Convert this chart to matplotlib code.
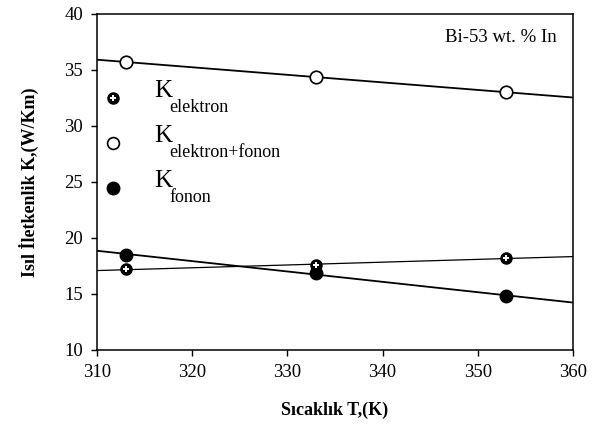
import numpy as np
import matplotlib.pyplot as plt

plt.rcParams['font.family'] = ['Liberation Serif', 'DejaVu Serif']

# sıcaklık (K)
T = [313, 333, 353]
k_elektron = [17.2, 17.6, 18.2]
k_toplam = [35.7, 34.4, 33.0]
k_fonon = [18.5, 16.9, 14.8]

xticks = [310, 320, 330, 340, 350, 360]
yticks = [10, 15, 20, 25, 30, 35, 40]

fig = plt.figure(figsize=(6.13, 4.38), dpi=100)
ax = fig.add_axes([97 / 613, 1 - 350 / 438, 476 / 613, 336 / 438])

xs = np.array([310, 360])
for y, lw in [(k_toplam, 1.3), (k_fonon, 1.3), (k_elektron, 0.9)]:
    p = np.polyfit(T, y, 1)
    ax.plot(xs, np.polyval(p, xs), color='black', lw=lw, zorder=2)


def elektron_marker(x, y, **kw):
    ax.plot(x, y, 'o', color='black', ms=8, zorder=3, **kw)
    ax.plot(x, y, 'P', color='white', ms=4.5, mew=0, zorder=4, **kw)


elektron_marker(T, k_elektron)
ax.plot(T, k_toplam, 'o', mfc='white', mec='black', ms=9, mew=1.2, zorder=3)
ax.plot(T, k_fonon, 'o', color='black', ms=9, zorder=3)

# el ile yerleştirilmiş açıklama
tr = ax.transAxes
leg = [(0.75, r'elektron'), (0.616, r'elektron+fonon'), (0.482, r'fonon')]
elektron_marker([0.034], [leg[0][0]], transform=tr)
ax.plot([0.034], [leg[1][0]], 'o', mfc='white', mec='black', ms=8.5, mew=1.2, transform=tr)
ax.plot([0.034], [leg[2][0]], 'o', color='black', ms=9, transform=tr)
for yy, sub in leg:
    ax.text(0.12, yy + 0.02, 'K', fontsize=18, transform=tr, va='center', ha='left')
    ax.text(0.152, yy - 0.027, sub, fontsize=13, transform=tr, va='center', ha='left')

ax.text(0.965, 0.93, 'Bi-53 wt. % In', fontsize=13.5, transform=tr, ha='right', va='center')

ax.set_xlim(310, 360)
ax.set_ylim(10, 40)
ax.set_xticks(xticks)
ax.set_yticks(yticks)
ax.tick_params(direction='out', labelsize=13.5, length=4, width=1, pad=6)
for s in ax.spines.values():
    s.set_linewidth(1.1)

ax.set_xlabel('Sıcaklık T,(K)', fontsize=13, fontweight='bold', labelpad=15)
ax.set_ylabel('Isıl İletkenlik K,(W/Km)', fontsize=13, fontweight='bold', labelpad=18)

fig.savefig('out.png', dpi=100)
